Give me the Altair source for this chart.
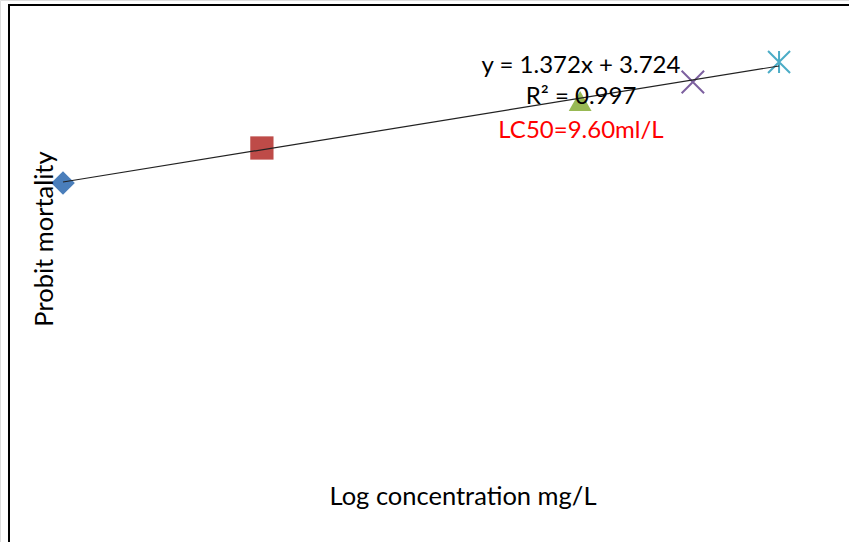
import altair as alt
import pandas as pd

# Data
groups = ["C1", "C2", "C3", "C4", "C5"]
log_conc = [0.30, 0.60, 1.08, 1.25, 1.38]
probit = [4.123, 4.570, 5.170, 5.413, 5.669]
slope = 1.372
intercept = 3.724
eq_text = "y = 1.372x + 3.724"
r2_text = "R² = 0.997"
lc50_text = "LC50=9.60ml/L"
x_title = "Log concentration mg/L"
y_title = "Probit mortality"

colors = ["#4a7ebb", "#be4b48", "#98b954", "#7d60a0", "#4bacc6"]
shapes = [
    "diamond",
    "square",
    "triangle-up",
    "M-1,-1L1,1M-1,1L1,-1",
    "M-1,-1L1,1M-1,1L1,-1M0,-1L0,1",
]
sizes = [560, 484, 440, 400, 330]

pts = pd.DataFrame({"g": groups, "x": log_conc, "y": probit})
xs = [min(log_conc), max(log_conc)]
fit = pd.DataFrame({"x": xs, "y": [slope * v + intercept for v in xs]})

xsc = alt.Scale(domain=[0.205, 1.4855], zero=False, nice=False)
ysc = alt.Scale(domain=[-0.462, 6.460], zero=False, nice=False)

enc = dict(
    x=alt.X("x:Q", scale=xsc, axis=None),
    y=alt.Y("y:Q", scale=ysc, axis=None),
    color=alt.Color("g:N", scale=alt.Scale(domain=groups, range=colors), legend=None),
    shape=alt.Shape("g:N", scale=alt.Scale(domain=groups, range=shapes), legend=None),
    size=alt.Size("g:N", scale=alt.Scale(domain=groups, range=sizes), legend=None),
)

filled = alt.Chart(pts).transform_filter(
    alt.FieldOneOfPredicate(field="g", oneOf=groups[:3])
).mark_point(filled=True, opacity=1).encode(**enc)

stroked = alt.Chart(pts).transform_filter(
    alt.FieldOneOfPredicate(field="g", oneOf=groups[3:])
).mark_point(filled=False, opacity=1, strokeWidth=2).encode(**enc)

line = alt.Chart(fit).mark_line(color="#222222", strokeWidth=1.2).encode(
    x=alt.X("x:Q", scale=xsc, axis=None),
    y=alt.Y("y:Q", scale=ysc, axis=None),
)

one = pd.DataFrame({"a": [0]})
font = "Lato"

def label(txt, x, y, color="#000000", size=24, angle=0):
    return alt.Chart(one).mark_text(
        text=txt, font=font, fontSize=size, color=color, angle=angle,
        align="center", baseline="middle"
    ).encode(x=alt.value(x), y=alt.value(y))

t_eq = label(eq_text, 581, 66)
t_r2 = label(r2_text, 581, 97)
t_lc = label(lc50_text, 581, 131, color="#ff0000")
t_x = label(x_title, 463, 497, size=25.5)
t_y = label(y_title, 45, 239, size=25.5, angle=270)

top_border = alt.Chart(one).mark_rule(color="#000000", strokeWidth=2).encode(
    x=alt.value(8), x2=alt.value(849), y=alt.value(5)
)
left_border = alt.Chart(one).mark_rule(color="#000000", strokeWidth=2).encode(
    x=alt.value(9), y=alt.value(4), y2=alt.value(542)
)

chart = alt.layer(
    filled, stroked, line, t_eq, t_r2, t_lc, t_x, t_y, top_border, left_border
).properties(
    width=849, height=542, autosize=alt.AutoSizeParams(type="none"), padding=0
).configure_view(stroke=None).configure(background="white")

chart.save("out.html", embed_options={"renderer": "svg", "actions": False})
